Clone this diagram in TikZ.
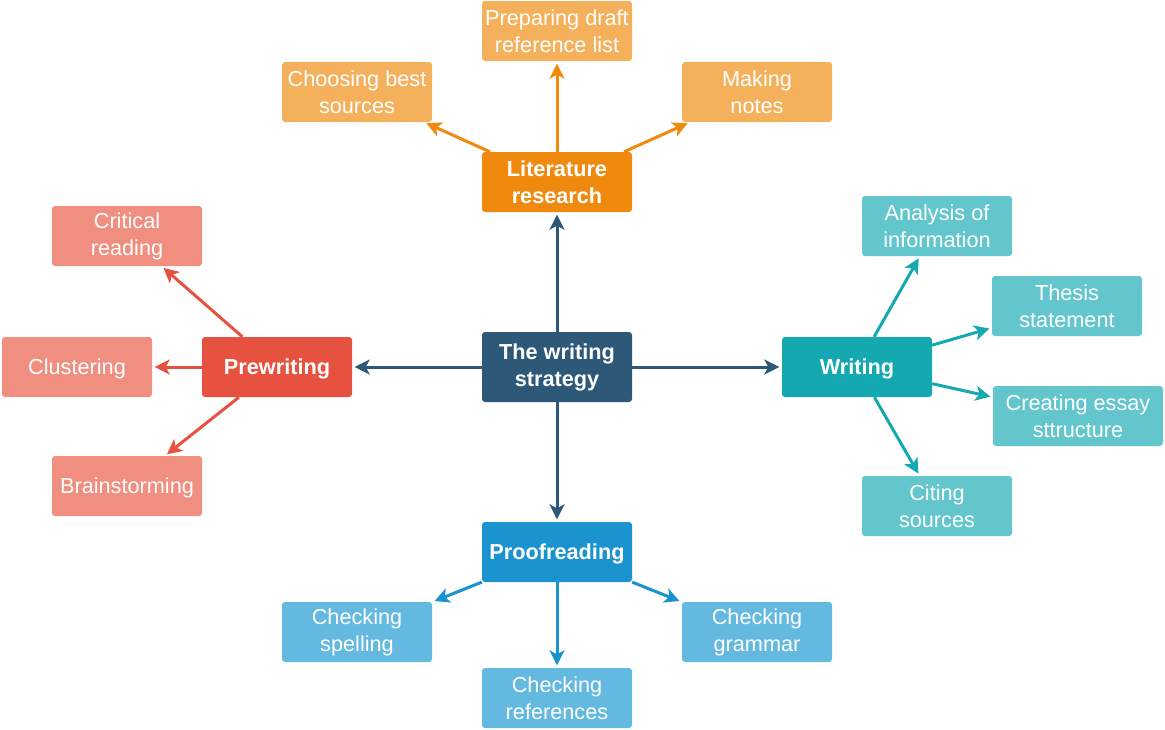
\documentclass[tikz,border=0pt]{standalone}
\usepackage{fontspec}
\setmainfont{Liberation Sans}
\usetikzlibrary{arrows.meta}
\definecolor{hubcol}{HTML}{2D5878}
\definecolor{litcol}{HTML}{F08A0E}
\definecolor{litlight}{HTML}{F5B05C}
\definecolor{precol}{HTML}{E6523F}
\definecolor{prelight}{HTML}{F08E80}
\definecolor{wricol}{HTML}{14A8B0}
\definecolor{wrilight}{HTML}{62C6CC}
\definecolor{procol}{HTML}{1B93CF}
\definecolor{prolight}{HTML}{64B9E1}
\tikzset{
  box/.style={rounded corners=3pt, minimum width=150pt, minimum height=60pt,
    align=center, text=white, inner sep=2pt,
    font=\fontsize{21.7}{27}\selectfont,
    execute at begin node={\rule{0pt}{20pt}}},
  mainbox/.style={box, font=\fontsize{21.7}{27}\selectfont\bfseries},
  arr/.style={line width=3pt, -{Stealth[length=15pt,width=15pt,inset=4pt]},
    shorten >=2.5pt},
}
\begin{document}
\begin{tikzpicture}[x=1pt,y=-1pt]
    \useasboundingbox (0,0) rectangle (1165,729);
    % centre and the four stages
    \node[mainbox, fill=hubcol, minimum height=70pt] (hub) at (557,367) {The writing\\strategy};
    \node[mainbox, fill=litcol] (lit) at (557,182) {Literature\\research};
    \node[mainbox, fill=precol] (pre) at (277,367) {Prewriting};
    \node[mainbox, fill=wricol] (wri) at (857,367) {Writing};
    \node[mainbox, fill=procol] (pro) at (557,552) {Proofreading};
    % literature research
    \node[box, fill=litlight] (draft) at (557,31) {Preparing draft\\reference list};
    \node[box, fill=litlight] (choose) at (357,92) {Choosing best\\sources};
    \node[box, fill=litlight] (notes) at (757,92) {Making\\notes};
    % prewriting
    \node[box, fill=prelight] (critical) at (127,236) {Critical\\reading};
    \node[box, fill=prelight] (cluster) at (77,367) {Clustering};
    \node[box, fill=prelight] (brain) at (127,486) {Brainstorming};
    % writing
    \node[box, fill=wrilight] (analysis) at (937,226) {Analysis of\\information};
    \node[box, fill=wrilight] (thesis) at (1067,306) {Thesis\\statement};
    \node[box, fill=wrilight, minimum width=170pt] (structure) at (1078,416) {Creating essay\\sttructure};
    \node[box, fill=wrilight] (citing) at (937,506) {Citing\\sources};
    % proofreading
    \node[box, fill=prolight] (spelling) at (357,632) {Checking\\spelling};
    \node[box, fill=prolight] (grammar) at (757,632) {Checking\\grammar};
    \node[box, fill=prolight] (refs) at (557,698) {Checking\\references};
    % arrows
    \foreach \s in {lit,pre,wri,pro}
    {
    \draw[arr, hubcol] (hub) -- (\s);
    }
    \foreach \c in {draft,choose,notes}
    {
    \draw[arr, litcol] (lit) -- (\c);
    }
    \foreach \c in {critical,cluster,brain}
    {
    \draw[arr, precol] (pre) -- (\c);
    }
    \foreach \c in {analysis,thesis,structure,citing}
    {
    \draw[arr, wricol] (wri) -- (\c);
    }
    \foreach \c in {spelling,grammar,refs}
    {
    \draw[arr, procol] (pro) -- (\c);
    }
\end{tikzpicture}
\end{document}
